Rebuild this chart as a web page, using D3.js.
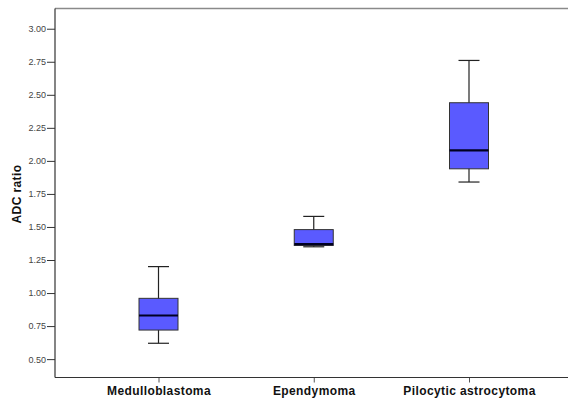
<!DOCTYPE html>
<html>
<head>
<meta charset="utf-8">
<script src="https://cdn.jsdelivr.net/npm/d3@7"></script>
<style>
  body { margin: 0; background: #fff; }
  svg { display: block; font-family: Arial, "Liberation Sans", sans-serif; }
</style>
</head>
<body>
<div id="chart"></div>
<script>
// box plot values
const categories = ['Medulloblastoma', 'Ependymoma', 'Pilocytic astrocytoma'];
const whiskerLow  = [0.62, 1.35, 1.84];
const q1          = [0.72, 1.36, 1.94];
const median      = [0.83, 1.37, 2.08];
const q3          = [0.96, 1.48, 2.44];
const whiskerHigh = [1.20, 1.58, 2.76];
const yTicks = [0.5, 0.75, 1.0, 1.25, 1.5, 1.75, 2.0, 2.25, 2.5, 2.75, 3.0];

const _w = 568, _h = 403;
const plotLeft = 55, plotTop = 8.5, plotBottom = 377.5;

const svg = d3.select('#chart').append('svg')
  .attr('width', _w)
  .attr('height', _h);

const x = d3.scalePoint()
  .domain(categories)
  .range([plotLeft, 572.5])
  .padding(2 / 3);

const y = d3.scaleLinear()
  .domain([0.361, 3.153])
  .range([plotBottom, plotTop]);

const boxes = categories.map((c, i) => ({
  name: c,
  lo: whiskerLow[i], q1: q1[i], med: median[i], q3: q3[i], hi: whiskerHigh[i]
}));

// frame: top border
svg.append('line')
  .attr('x1', plotLeft).attr('x2', _w)
  .attr('y1', plotTop).attr('y2', plotTop)
  .attr('stroke', '#8a8a8a').attr('stroke-width', 1.5);

// y axis
const yAxis = svg.append('g')
  .attr('transform', `translate(${plotLeft},0)`)
  .call(d3.axisLeft(y).tickValues(yTicks).tickFormat(d3.format('.2f')).tickSize(8).tickSizeOuter(0));
yAxis.select('.domain').remove();
yAxis.append('line')
  .attr('x1', 0).attr('x2', 0)
  .attr('y1', plotTop).attr('y2', plotBottom)
  .attr('stroke', '#333').attr('stroke-width', 1.2);
yAxis.selectAll('.tick line').attr('stroke', '#333');
yAxis.selectAll('.tick text')
  .attr('x', -9)
  .attr('fill', '#444')
  .style('font-size', '9px');

// x axis
const xAxis = svg.append('g')
  .attr('transform', `translate(0,${plotBottom})`)
  .call(d3.axisBottom(x).tickSize(5).tickSizeOuter(0));
xAxis.select('.domain').remove();
xAxis.append('line')
  .attr('x1', plotLeft).attr('x2', _w)
  .attr('y1', 0).attr('y2', 0)
  .attr('stroke', '#333').attr('stroke-width', 1.2);
xAxis.selectAll('.tick line').attr('stroke', '#555');
xAxis.selectAll('.tick text')
  .attr('y', 9)
  .attr('fill', '#111')
  .style('font-size', '12px')
  .style('letter-spacing', '0.4px')
  .style('font-weight', 'bold');

// y label
svg.append('text')
  .attr('transform', 'translate(21,194) rotate(-90)')
  .attr('text-anchor', 'middle')
  .style('font-size', '12px')
  .style('letter-spacing', '0.4px')
  .style('font-weight', 'bold')
  .attr('fill', '#111')
  .text('ADC ratio');

// boxes
const boxW = 39, capW = 21;
const g = svg.selectAll('.box')
  .data(boxes)
  .enter().append('g')
  .attr('class', 'box')
  .attr('transform', d => `translate(${x(d.name)},0)`);

g.append('line')
  .attr('x1', 0).attr('x2', 0)
  .attr('y1', d => y(d.hi)).attr('y2', d => y(d.lo))
  .attr('stroke', '#222').attr('stroke-width', 1.2);

g.append('line')
  .attr('x1', -capW / 2).attr('x2', capW / 2)
  .attr('y1', d => y(d.hi)).attr('y2', d => y(d.hi))
  .attr('stroke', '#222').attr('stroke-width', 1.2);

g.append('line')
  .attr('x1', -capW / 2).attr('x2', capW / 2)
  .attr('y1', d => y(d.lo)).attr('y2', d => y(d.lo))
  .attr('stroke', '#222').attr('stroke-width', 1.2);

g.append('rect')
  .attr('x', -boxW / 2)
  .attr('width', boxW)
  .attr('y', d => y(d.q3))
  .attr('height', d => y(d.q1) - y(d.q3))
  .attr('fill', '#5a5aff')
  .attr('stroke', '#333')
  .attr('stroke-width', 1);

g.append('line')
  .attr('x1', -boxW / 2).attr('x2', boxW / 2)
  .attr('y1', d => y(d.med)).attr('y2', d => y(d.med))
  .attr('stroke', '#000022').attr('stroke-width', 2.2);
</script>
</body>
</html>
